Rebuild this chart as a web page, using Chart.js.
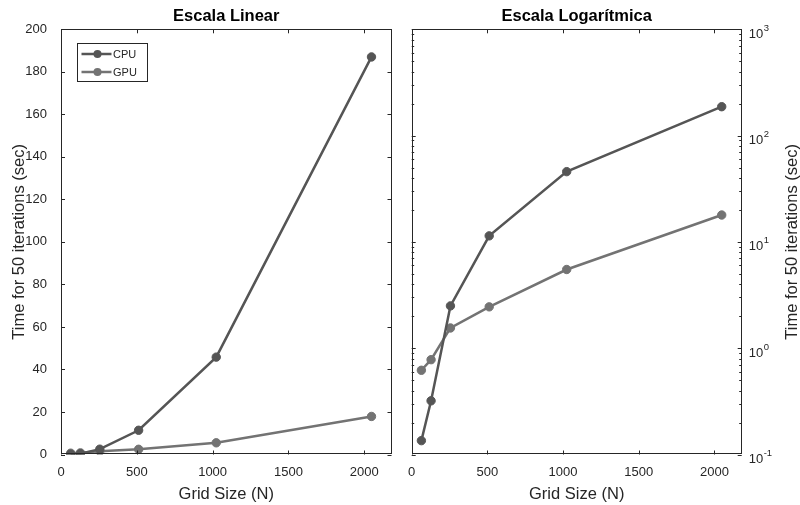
<!DOCTYPE html>
<html>
<head>
<meta charset="utf-8">
<script src="https://cdn.jsdelivr.net/npm/chart.js@4"></script>
<style>
html, body { margin: 0; padding: 0; background: #fff; }
#wrap { position: relative; width: 800px; height: 505px; }
.panel { position: absolute; top: 0; width: 400px; height: 505px; }
</style>
</head>
<body>
<div id="wrap">
  <div class="panel" style="left:0"><canvas id="linChart" width="400" height="505"></canvas></div>
  <div class="panel" style="left:400px"><canvas id="logChart" width="400" height="505"></canvas></div>
</div>
<script>
// valeurs
const gridSizes = [64, 128, 256, 512, 1024, 2048];
const cpuTimes = [0.135, 0.32, 2.5, 11.4, 45.8, 187];
const gpuTimes = [0.62, 0.78, 1.55, 2.45, 5.5, 17.9];
const seriesNames = ['CPU', 'GPU'];
const seriesColors = ['#555555', '#737373'];

const xTicks = [0, 500, 1000, 1500, 2000];
const linTicks = [0, 20, 40, 60, 80, 100, 120, 140, 160, 180, 200];
const logExponents = [-1, 0, 1, 2, 3];

const chartTitles = ['Escala Linear', 'Escala Logarítmica'];
const xLabel = 'Grid Size (N)';
const yLabel = 'Time for 50 iterations (sec)';

const FONT = '"Liberation Sans", Arial, Helvetica, sans-serif';
const INK = '#262626';
const X_MAX = 2180;

function makeDatasets() {
    return [cpuTimes, gpuTimes].map((vals, i) => ({
        label: seriesNames[i],
        data: gridSizes.map((n, j) => ({ x: n, y: vals[j] })),
        borderColor: seriesColors[i],
        backgroundColor: seriesColors[i],
        pointBackgroundColor: seriesColors[i],
        pointBorderColor: seriesColors[i],
        borderWidth: 2.5,
        pointRadius: 4.2,
        pointBorderWidth: 1,
        tension: 0
    }));
}

// cadre style MATLAB : boîte, graduations vers l'intérieur, titre, légende
const frame = {
    id: 'frame',
    afterDraw(chart, args, opts) {
        const ctx = chart.ctx;
        const a = chart.chartArea;
        const xs = chart.scales.x, ys = chart.scales.y;
        ctx.save();
        ctx.strokeStyle = INK;
        ctx.lineWidth = 1;
        ctx.beginPath();
        xs.ticks.forEach(t => {
            const px = Math.round(xs.getPixelForValue(t.value)) + 0.5;
            ctx.moveTo(px, a.bottom); ctx.lineTo(px, a.bottom - 4);
            ctx.moveTo(px, a.top); ctx.lineTo(px, a.top + 4);
        });
        ys.ticks.forEach(t => {
            const py = Math.round(ys.getPixelForValue(t.value)) + 0.5;
            const len = t.minor ? 2.5 : 4;
            ctx.moveTo(a.left, py); ctx.lineTo(a.left + len, py);
            ctx.moveTo(a.right, py); ctx.lineTo(a.right - len, py);
        });
        ctx.stroke();
        ctx.strokeRect(Math.round(a.left) + 0.5, Math.round(a.top) + 0.5,
            Math.round(a.width) - 1, Math.round(a.height) - 1);

        // titre
        ctx.fillStyle = '#000';
        ctx.font = 'bold 16.5px ' + FONT;
        ctx.textAlign = 'center';
        ctx.textBaseline = 'middle';
        ctx.fillText(opts.title, (a.left + a.right) / 2, 16);

        if (opts.legend) {
            const bx = Math.round(a.left + 15.5) + 0.5, by = Math.round(a.top + 14) + 0.5;
            ctx.fillStyle = '#fff';
            ctx.fillRect(bx, by, 70, 38);
            ctx.strokeStyle = INK;
            ctx.strokeRect(bx, by, 70, 38);
            chart.data.datasets.forEach((ds, i) => {
                const ry = by + 10.5 + i * 18;
                ctx.strokeStyle = ds.borderColor;
                ctx.lineWidth = 2.5;
                ctx.beginPath();
                ctx.moveTo(bx + 4, ry); ctx.lineTo(bx + 34, ry);
                ctx.stroke();
                ctx.fillStyle = ds.borderColor;
                ctx.beginPath();
                ctx.arc(bx + 20, ry, 4, 0, Math.PI * 2);
                ctx.fill();
                ctx.fillStyle = INK;
                ctx.font = '11px ' + FONT;
                ctx.textAlign = 'left';
                ctx.fillText(ds.label, bx + 35.5, ry + 0.5);
            });
        }

        if (opts.logLabels) {
            logExponents.forEach(e => {
                const py = ys.getPixelForValue(Math.pow(10, e));
                const x0 = a.right + 7;
                ctx.fillStyle = INK;
                ctx.textAlign = 'left';
                ctx.textBaseline = 'alphabetic';
                ctx.font = '13px ' + FONT;
                ctx.fillText('10', x0, py + 8.5);
                const w = ctx.measureText('10').width;
                ctx.font = '9.5px ' + FONT;
                ctx.fillText(String(e), x0 + w + 0.5, py + 1.5);
            });
            // étiquette de l'axe droit, lue de bas en haut
            ctx.save();
            ctx.translate(392, (a.top + a.bottom) / 2);
            ctx.rotate(-Math.PI / 2);
            ctx.font = '16.5px ' + FONT;
            ctx.textAlign = 'center';
            ctx.textBaseline = 'middle';
            ctx.fillStyle = INK;
            ctx.fillText(yLabel, 0, 0);
            ctx.restore();
        }
        ctx.restore();
    }
};

function xScale() {
    return {
        type: 'linear',
        min: 0,
        max: X_MAX,
        afterBuildTicks: s => { s.ticks = xTicks.map(v => ({ value: v })); },
        afterFit: s => { s.height = 50.5; },
        grid: { display: false },
        border: { display: false },
        ticks: { color: INK, font: { family: FONT, size: 13 }, padding: 2, maxRotation: 0, callback: v => String(v) },
        title: { display: true, text: xLabel, color: INK, font: { family: FONT, size: 16.5 }, padding: { top: 0, bottom: 1 } }
    };
}

// graphique linéaire
new Chart(document.getElementById('linChart'), {
    type: 'line',
    data: { datasets: makeDatasets() },
    options: {
        responsive: false,
        animation: false,
        layout: { padding: { left: 0, right: 8.5, top: 29.3, bottom: 0 } },
        plugins: {
            legend: { display: false },
            tooltip: { enabled: false },
            frame: { title: chartTitles[0], legend: true }
        },
        scales: {
            x: xScale(),
            y: {
                type: 'linear',
                min: 0,
                max: 200,
                afterBuildTicks: s => { s.ticks = linTicks.map(v => ({ value: v })); },
                afterFit: s => { s.width = 61; },
                grid: { display: false },
                border: { display: false },
                ticks: { color: INK, font: { family: FONT, size: 13 }, padding: 6 },
                title: { display: true, text: yLabel, color: INK, font: { family: FONT, size: 16.5 }, padding: { top: 10, bottom: 0 } }
            }
        }
    },
    plugins: [frame]
});

// graphique logarithmique
new Chart(document.getElementById('logChart'), {
    type: 'line',
    data: { datasets: makeDatasets() },
    options: {
        responsive: false,
        animation: false,
        layout: { padding: { left: 11.7, right: 0, top: 29.3, bottom: 0 } },
        plugins: {
            legend: { display: false },
            tooltip: { enabled: false },
            frame: { title: chartTitles[1], logLabels: true }
        },
        scales: {
            x: xScale(),
            y: {
                type: 'logarithmic',
                position: 'right',
                min: 0.1,
                max: 1000,
                afterBuildTicks: s => {
                    const t = [];
                    for (let e = logExponents[0]; e < logExponents[logExponents.length - 1]; e++) {
                        for (let m = 1; m <= 9; m++) t.push({ value: m * Math.pow(10, e), minor: m !== 1 });
                    }
                    t.push({ value: Math.pow(10, logExponents[logExponents.length - 1]) });
                    s.ticks = t;
                },
                afterFit: s => { s.width = 58.3; },
                grid: { display: false },
                border: { display: false },
                ticks: { display: false },
                title: { display: false }
            }
        }
    },
    plugins: [frame]
});
</script>
</body>
</html>
